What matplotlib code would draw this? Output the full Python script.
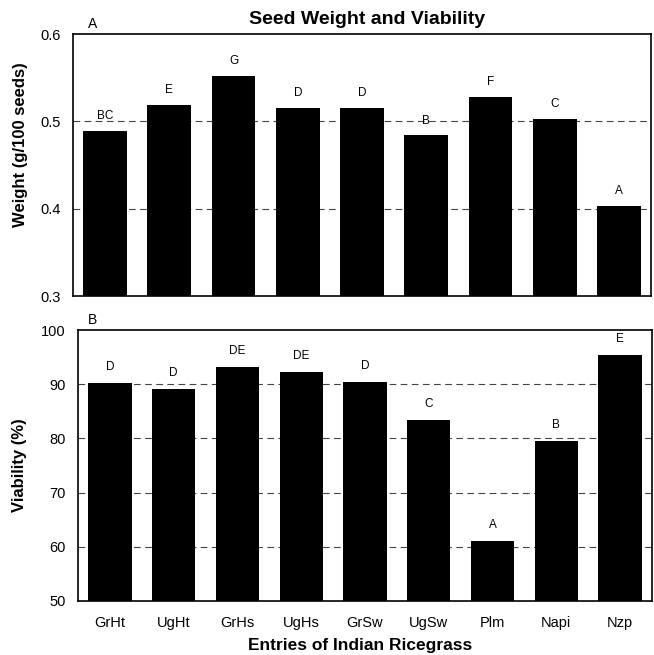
import matplotlib
matplotlib.use("Agg")
import matplotlib.pyplot as plt
import numpy as np

plt.rcParams['font.family'] = ['Liberation Sans', 'DejaVu Sans']

entries = ["GrHt", "UgHt", "GrHs", "UgHs", "GrSw", "UgSw", "Plm", "Napi", "Nzp"]
weight = [0.489, 0.519, 0.552, 0.515, 0.515, 0.484, 0.528, 0.503, 0.403]
weight_letters = ["BC", "E", "G", "D", "D", "B", "F", "C", "A"]
viability = [90.2, 89.1, 93.2, 92.3, 90.4, 83.4, 61.1, 79.6, 95.4]
viability_letters = ["D", "D", "DE", "DE", "D", "C", "A", "B", "E"]

fig = plt.figure(figsize=(6.54, 6.55), dpi=100)
ax1 = fig.add_axes([73/654, 1 - 296/655, 578/654, 262/655])
ax2 = fig.add_axes([78/654, 1 - 601/655, 574/654, 271/655])

x = np.arange(len(entries))
w = 0.68

def style(ax):
    for s in ax.spines.values():
        s.set_linewidth(1.2)
        s.set_color('black')
    ax.tick_params(axis='both', length=0, labelsize=10.5, pad=9)
    ax.set_xlim(-0.5, len(entries) - 0.5)

ax1.bar(x, weight, width=w, color='black', zorder=3)
ax1.set_ylim(0.3, 0.6)
ax1.set_yticks([0.3, 0.4, 0.5, 0.6])
ax1.set_yticklabels(["0.3", "0.4", "0.5", "0.6"])
for y in [0.4, 0.5]:
    ax1.axhline(y, color='#444444', lw=0.8, ls=(0, (6, 4)), zorder=1)
for xi, v, t in zip(x, weight, weight_letters):
    ax1.text(xi, v + 0.01, t, ha='center', va='bottom', fontsize=8.5)
ax1.set_xticks([])
style(ax1)
ax1.set_ylabel("Weight (g/100 seeds)", fontsize=12, fontweight='bold')
ax1.yaxis.set_label_coords(-0.077, 0.576)
ax1.text(15/578, 1.012, "A", transform=ax1.transAxes, fontsize=10, ha='left', va='bottom')
fig.text(367/654, 1 - 24/655, "Seed Weight and Viability", fontsize=14, fontweight='bold',
         ha='center', va='baseline')

ax2.bar(x, viability, width=w, color='black', zorder=3)
ax2.set_ylim(50, 100)
ax2.set_yticks([50, 60, 70, 80, 90, 100])
for y in [60, 70, 80, 90]:
    ax2.axhline(y, color='#444444', lw=0.8, ls=(0, (6, 4)), zorder=1)
for xi, v, t in zip(x, viability, viability_letters):
    ax2.text(xi, v + 1.8, t, ha='center', va='bottom', fontsize=8.5)
ax2.set_xticks(x)
ax2.set_xticklabels(entries)
style(ax2)
ax2.tick_params(axis='x', pad=11)
ax2.set_ylabel("Viability (%)", fontsize=12, fontweight='bold')
ax2.yaxis.set_label_coords(-0.088, 0.5)
fig.text(360/654, 1 - 650/655, "Entries of Indian Ricegrass", fontsize=12.5, fontweight='bold',
         ha='center', va='baseline')
ax2.text(10/574, 1.012, "B", transform=ax2.transAxes, fontsize=10, ha='left', va='bottom')

fig.savefig("out.png", dpi=100)
